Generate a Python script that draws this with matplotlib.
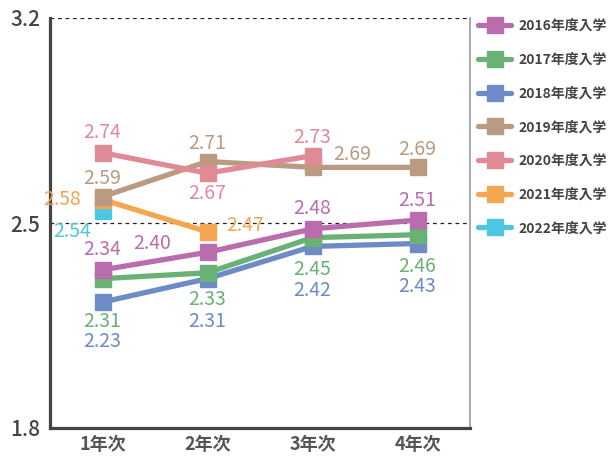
import matplotlib
matplotlib.use("Agg")
import matplotlib.pyplot as plt
from matplotlib.lines import Line2D

plt.rcParams['font.family'] = ['Noto Sans CJK JP', 'DejaVu Sans']

categories = ["1年次", "2年次", "3年次", "4年次"]
series_names = ["2016年度入学", "2017年度入学", "2018年度入学", "2019年度入学",
                "2020年度入学", "2021年度入学", "2022年度入学"]
v2016 = [2.34, 2.40, 2.48, 2.51]
v2017 = [2.31, 2.33, 2.45, 2.46]
v2018 = [2.23, 2.31, 2.42, 2.43]
v2019 = [2.59, 2.71, 2.69, 2.69]
v2020 = [2.74, 2.67, 2.73]
v2021 = [2.58, 2.47]
v2022 = [2.54]
series_values = [v2016, v2017, v2018, v2019, v2020, v2021, v2022]
y_ticks = [1.8, 2.5, 3.2]

colors = ["#b96dae", "#69b174", "#6c8bc7", "#bb9a82", "#e08a95", "#f4a651", "#4cc6e1"]
zorders = [10, 9, 8, 7, 7.5, 6, 5]
# label offsets in pixels (dx, dy) for each point
offsets = [
    [(0, 20), (-55, 9), (0, 20), (0, 20)],
    [(0, -43), (0, -27), (0, -32), (0, -32)],
    [(0, -39), (0, -43), (0, -44), (0, -43)],
    [(0, 18), (0, 18), (40, 13), (0, 18)],
    [(0, 20), (0, -20), (0, 18)],
    [(-40, 0), (38, 6)],
    [(-30, -20)],
]

W, H = 614, 459
fig = plt.figure(figsize=(W / 100, H / 100), dpi=100)
ax = fig.add_axes([50 / W, 1 - 428 / H, 420 / W, 410 / H])

for name, vals, c, z, offs in zip(series_names, series_values, colors, zorders, offsets):
    xs = list(range(len(vals)))
    ax.plot(xs, vals, color=c, lw=3.8, marker='s', markersize=12,
            solid_capstyle='round', zorder=z, label=name, clip_on=False)
    for x, v, (dx, dy) in zip(xs, vals, offs):
        ax.annotate(f"{v:.2f}", (x, v), xytext=(dx, dy), textcoords='offset pixels',
                    ha='center', va='center', color=c, fontsize=14, zorder=20)

ax.set_xlim(-0.5, 3.5)
ax.set_ylim(1.8, 3.2)
ax.set_yticks(y_ticks)
ax.set_yticklabels([f"{t:.1f}" for t in y_ticks])
ax.set_xticks(range(len(categories)))
ax.set_xticklabels(categories)
ax.tick_params(axis='y', length=0, pad=7, labelsize=15, labelcolor='#444444')
ax.tick_params(axis='x', length=0, pad=5, labelsize=13, labelcolor='#555555')
for lab in ax.get_xticklabels():
    lab.set_fontweight('bold')
for lab in ax.get_yticklabels():
    lab.set_fontweight('medium')

for yv in [2.5, 3.2]:
    ax.axhline(yv, color='#222222', lw=0.9, ls=(0, (3, 3)), zorder=1)

ax.spines['top'].set_visible(False)
ax.spines['left'].set_linewidth(2.3)
ax.spines['left'].set_color('#444444')
ax.spines['bottom'].set_linewidth(2.3)
ax.spines['bottom'].set_color('#444444')
ax.spines['right'].set_linewidth(1.2)
ax.spines['right'].set_color('#999999')

handles = [Line2D([0], [0], color=c, lw=3.8, marker='s', markersize=11,
                  solid_capstyle='round') for c in colors]
leg = fig.legend(handles, series_names, loc='upper left',
                 bbox_to_anchor=(478 / W, 1 - 19 / H), frameon=False,
                 fontsize=10, labelspacing=1.42, handlelength=2.4,
                 handletextpad=0.55, borderaxespad=0, borderpad=0)
for t in leg.get_texts():
    t.set_color('#444444')
    t.set_fontweight('bold')

fig.savefig("out.png", dpi=100)
